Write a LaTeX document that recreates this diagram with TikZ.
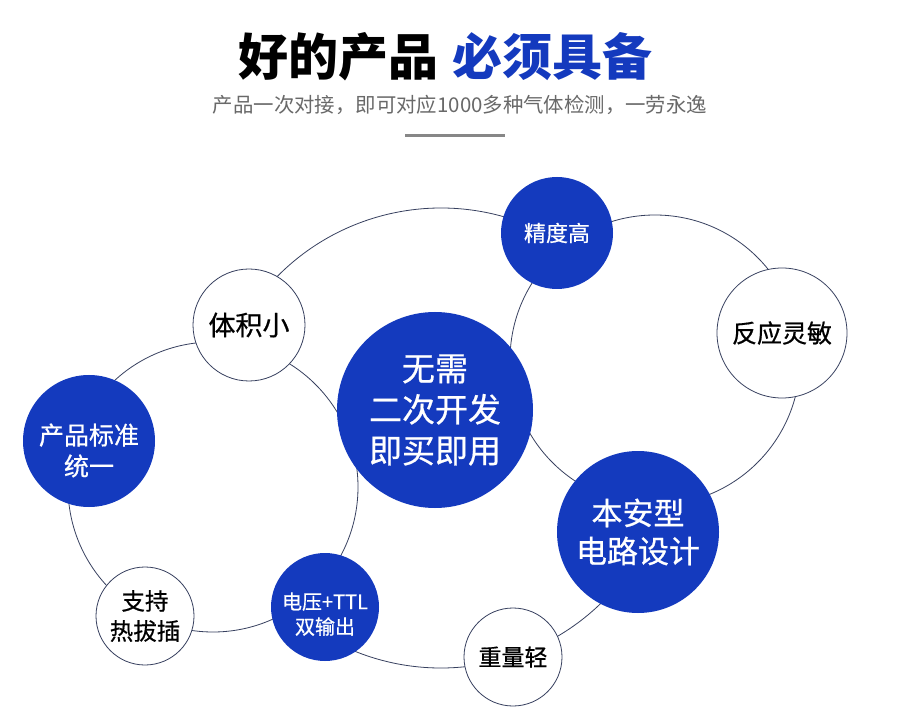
\documentclass[tikz,border=0pt]{standalone}
\usepackage{fontspec}
\usepackage{tikz}
\usepackage{xcolor}
\newfontfamily\cjk{Noto Sans CJK SC}
\newfontfamily\cjkmid{Noto Sans CJK SC}[FakeBold=0.6]
\definecolor{deepblue}{RGB}{20,58,190}
\definecolor{ringline}{RGB}{55,64,95}
\definecolor{subgray}{RGB}{105,105,105}
\definecolor{rulegray}{RGB}{135,135,135}

\begin{document}
\begin{tikzpicture}[x=1pt, y=1pt,
    ring/.style={draw=ringline, line width=0.8pt},
    bluedot/.style={circle, fill=deepblue, text=white, align=center, inner sep=0pt},
    whitedot/.style={circle, draw=ringline, line width=0.8pt, fill=white, text=black, align=center, inner sep=0pt}]
    \useasboundingbox (0,0) rectangle (900,724);
    \fill[white] (0,0) rectangle (900,724);

    % heading
    \node[font=\cjk\bfseries\fontsize{50}{56}\selectfont] (title) at (445,667)
        {好的产品\hspace{14pt}{\color{deepblue}必须具备}};
    \node[font=\cjk\fontsize{20.4}{24}\selectfont, text=subgray] (subtitle) at (460,619)
        {产品一次对接，即可对应1000多种气体检测，一劳永逸};
    \coordinate (rulel) at (405,588);
    \coordinate (ruler) at (505,588);
    \draw[rulegray, line width=3pt] (rulel) -- (ruler);

    % rings
    \coordinate (ringa) at (213,237);
    \coordinate (ringb) at (441,286);
    \coordinate (ringc) at (655,364);
    \draw[ring] (ringa) circle (145);
    \draw[ring] (ringc) circle (145);
    \draw[ring] (ringb) ++(140:230) arc[start angle=140, end angle=70, radius=230];
    \draw[ring] (ringb) ++(-115:230) arc[start angle=-115, end angle=-42, radius=230];

    % circles
    \node[bluedot, minimum size=196pt, font=\cjkmid\fontsize{33}{41}\selectfont] (wuxu) at (435,314)
        {无需\\二次开发\\即买即用};
    \node[bluedot, minimum size=112pt, font=\cjkmid\fontsize{22}{26}\selectfont] (jingdu) at (557,491) {精度高};
    \node[whitedot, minimum size=112pt, font=\cjkmid\fontsize{27}{32}\selectfont] (tiji) at (249,399) {体积小};
    \node[whitedot, minimum size=130pt, font=\cjkmid\fontsize{25}{30}\selectfont] (fanying) at (782,391) {反应灵敏};
    \node[bluedot, minimum size=132pt, font=\cjkmid\fontsize{25}{31}\selectfont] (biaozhun) at (89,283)
        {\rule{0pt}{40pt}产品标准\\统一};
    \node[bluedot, minimum size=162pt, font=\cjkmid\fontsize{31}{38}\selectfont] (benan) at (638,192)
        {本安型\\电路设计};
    \node[whitedot, minimum size=98pt, font=\cjkmid\fontsize{23.5}{30}\selectfont] (zhichi) at (145,108)
        {支持\\热拔插};
    \node[bluedot, minimum size=108pt, font=\cjkmid\fontsize{20}{25}\selectfont] (dianya) at (325,117)
        {\rule{0pt}{31pt}电压+TTL\\双输出};
    \node[whitedot, minimum size=98pt, font=\cjkmid\fontsize{23}{28}\selectfont] (zhongliang) at (513,67) {重量轻};
\end{tikzpicture}
\end{document}
